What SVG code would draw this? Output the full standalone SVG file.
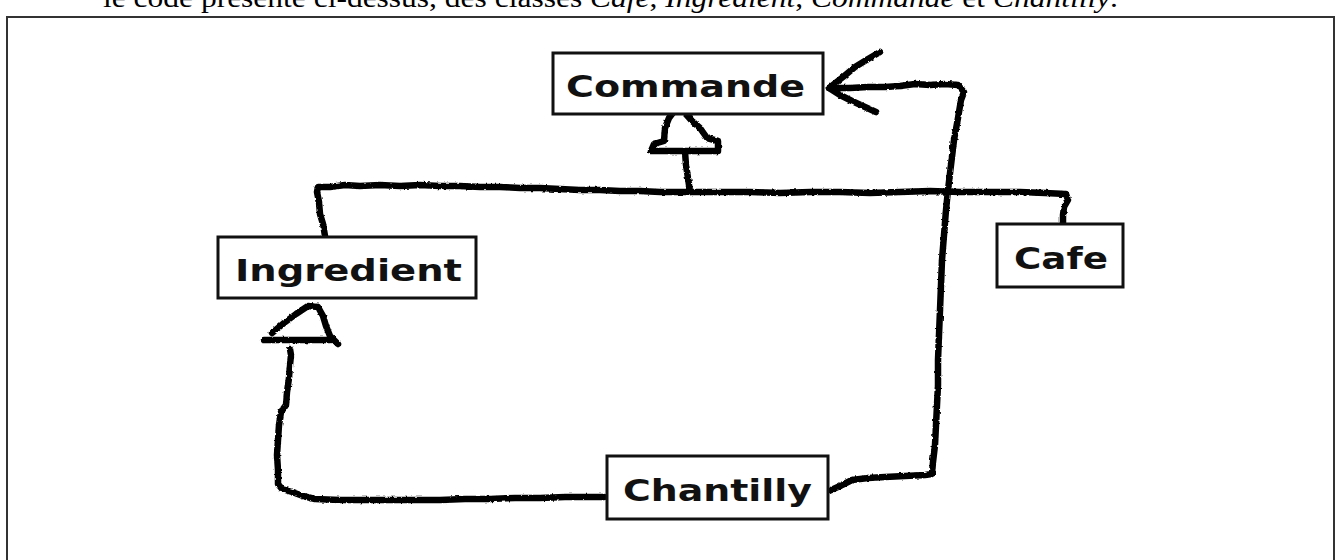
<svg xmlns="http://www.w3.org/2000/svg" width="1338" height="560" viewBox="0 0 1338 560">
<defs>
<filter id="rough" x="-5%" y="-5%" width="110%" height="110%">
<feTurbulence type="fractalNoise" baseFrequency="0.35" numOctaves="1" seed="3" result="n"/>
<feDisplacementMap in="SourceGraphic" in2="n" scale="3" xChannelSelector="R" yChannelSelector="G"/>
</filter>
</defs>
<style>
.box{fill:#fff;stroke:#111;stroke-width:3}
.lbl{font-family:"DejaVu Sans",sans-serif;font-weight:bold;font-size:30px;fill:#111}
.wire{fill:none;stroke:#000;stroke-width:6.5;stroke-linejoin:round;stroke-linecap:round}
.frame{stroke:#333;stroke-width:2;fill:none}
.cap{font-family:"Liberation Serif",serif;font-size:28px;fill:#000}
</style>
<rect width="1338" height="560" fill="#fff"/>
<text class="cap" x="103" y="7" textLength="1015" lengthAdjust="spacingAndGlyphs">le code présenté ci-dessus, des classes <tspan font-style="italic">Cafe</tspan>, <tspan font-style="italic">Ingredient</tspan>, <tspan font-style="italic">Commande</tspan> et <tspan font-style="italic">Chantilly</tspan>.</text>
<path class="frame" d="M7,560 V17 H1334 V560"/>
<g id="connectors" filter="url(#rough)">
<path class="wire" d="M325,236 L323,224 L320,214 L319,202 L317,192 L318,187 L330,187 L345,185 L360,186 L380,185 L400,186 L420,185 L440,186 L460,186 L480,187 L500,187 L520,188 L540,188 L560,189 L580,190 L600,190 L620,191 L640,191 L660,192 L690,192 L720,192 L750,192 L780,193 L810,192 L840,192 L870,193 L900,192 L930,191 L960,192 L990,192 L1020,192 L1045,193 L1066,194 L1068,200 L1064,207 L1063,215 L1063,223"/>
<path class="wire" d="M690,192 L688,178 L686,165 L685,152"/>
<path class="wire" style="fill:#fff" d="M675,110 L669,118 L665,128 L664,141 L654,144 L651,151 L683,151 L718,151 L718,141 L707,138 L700,128 L692,121 L684,112 Z"/>
<path class="wire" d="M829,491 L840,486 L852,480 L868,478 L885,477 L905,476 L925,475 L932,474 L933,462 L935,445 L936,425 L937,405 L938,385 L938,360 L939,335 L940,310 L941,285 L942,260 L944,235 L946,210 L948,190 L951,165 L954,140 L958,118 L961,100 L964,92 L958,85 L945,84 L930,85 L915,84 L900,86 L885,87 L868,87 L850,88 L829,88"/>
<path class="wire" d="M880,52 L868,59 L855,67 L843,77 L829,88 L840,95 L852,101 L865,107 L876,112"/>
<path class="wire" d="M604,497 L585,497 L565,497 L540,498 L515,498 L490,499 L465,499 L440,500 L415,500 L390,500 L365,500 L340,500 L315,499 L303,496 L292,492 L282,489 L278,484 L278,470 L277,455 L278,440 L279,425 L281,412 L286,405 L287,392 L289,378 L290,365 L291,355 L290,349"/>
<path class="wire" d="M272,333 L284,323 L296,314 L308,306 L318,307 L323,316 L326,326 L330,336 L338,344"/>
<path class="wire" d="M264,340 L300,340 L331,340"/>
</g>
<g id="node-commande">
<rect class="box" x="553" y="53" width="270" height="61"/>
<text class="lbl" x="566" y="97" textLength="239" lengthAdjust="spacingAndGlyphs">Commande</text>
</g>
<g id="node-ingredient">
<rect class="box" x="218" y="237" width="258" height="61"/>
<text class="lbl" x="235" y="281" textLength="227" lengthAdjust="spacingAndGlyphs">Ingredient</text>
</g>
<g id="node-cafe">
<rect class="box" x="997" y="224" width="126" height="63"/>
<text class="lbl" x="1014" y="269" textLength="94" lengthAdjust="spacingAndGlyphs">Cafe</text>
</g>
<g id="node-chantilly">
<rect class="box" x="607" y="456" width="221" height="63"/>
<text class="lbl" x="623" y="501" textLength="189" lengthAdjust="spacingAndGlyphs">Chantilly</text>
</g>
</svg>
